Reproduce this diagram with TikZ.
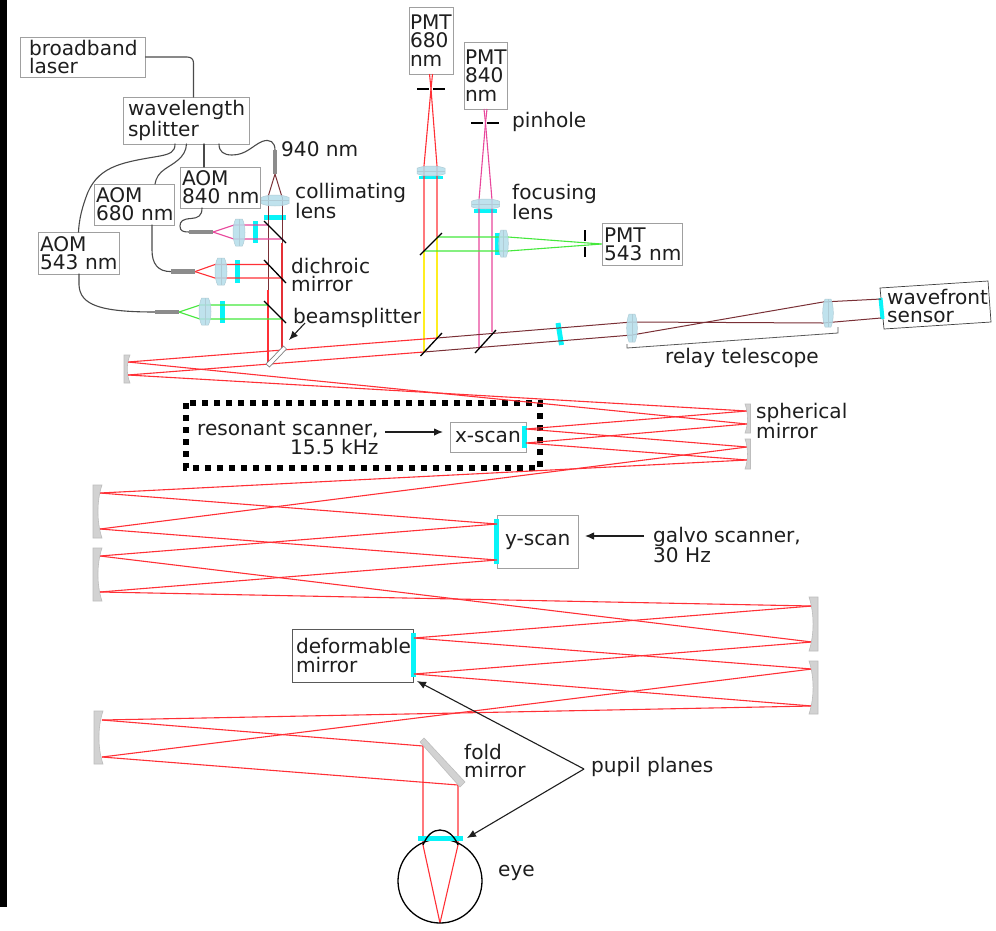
\documentclass[tikz,border=0pt]{standalone}
\usepackage{fontspec}
\setmainfont{DejaVu Sans}
\usetikzlibrary{arrows.meta}
\definecolor{ray}{HTML}{FF3036}
\definecolor{brownray}{HTML}{7A3036}
\definecolor{pinkray}{HTML}{E8479C}
\definecolor{greenray}{HTML}{45E83C}
\definecolor{yelray}{HTML}{FFEE20}
\definecolor{cyanbar}{HTML}{08F4F8}
\definecolor{fibre}{HTML}{4A4A4A}
\definecolor{boxline}{HTML}{A0A0A0}
\definecolor{mirrorgray}{HTML}{D2D2D2}
\definecolor{lensblue}{HTML}{B4DDEA}
\definecolor{lensline}{HTML}{B0CCD6}
\definecolor{ink}{HTML}{1E1E1E}
\tikzset{
  x=1pt,y=-1pt,
  every node/.style={text=ink,font=\fontsize{20.1}{18.3}\selectfont},
  boxn/.style n args={3}{draw=boxline,line width=1pt,fill=white,minimum width=#1pt,minimum height=#2pt,
    inner xsep=#3pt,inner ysep=0pt,text width=\dimexpr #1pt-2\dimexpr #3pt\relax\relax,align=left},
  lbl/.style={anchor=west,align=left,inner sep=0pt},
  rayline/.style={draw=ray,line width=1.1pt},
  brownline/.style={draw=brownray,line width=1pt},
  pinkline/.style={draw=pinkray,line width=1.1pt},
  greenline/.style={draw=greenray,line width=1.1pt},
  yellowline/.style={draw=yelray,line width=1.2pt},
  fibreline/.style={draw=fibre,line width=1.1pt,line cap=round},
  cyanstrip/.style={draw=cyanbar,line width=5pt},
  mirrorblack/.style={draw=black,line width=1.3pt},
  mirrorshape/.style={fill=mirrorgray,draw=boxline!70,line width=.6pt},
  arrowline/.style={draw=ink,line width=1.1pt,-{Latex[length=9pt,width=7.5pt]}},
  collim/.style={draw=black!45,line width=4.5pt}
}
\newcommand\LensShape[5]{% cx cy hw hh rot
  \begin{scope}[shift={(#1,#2)},rotate=#5]
    \path[fill=lensblue,draw=lensline,line width=.5pt,fill opacity=.85]
      (-#3*.55,-#4) -- (#3*.55,-#4) .. controls (#3*1.15,-#4*.5) and (#3*1.15,#4*.5) .. (#3*.55,#4)
      -- (-#3*.55,#4) .. controls (-#3*1.15,#4*.5) and (-#3*1.15,-#4*.5) .. cycle;
    \draw[lensline,line width=.4pt] (0,-#4) -- (0,#4);
  \end{scope}}
\newcommand\MirrorR[4]{% concave face right: left x, width, top y, bottom y
  \path[mirrorshape] (#1,#3) -- (#1+#2,#3) .. controls (#1+#2*.4,#3*.7+#4*.3) and (#1+#2*.4,#3*.3+#4*.7) .. (#1+#2,#4) -- (#1,#4) -- cycle;}
\newcommand\MirrorL[4]{% concave face left: right x, width, top y, bottom y
  \path[mirrorshape] (#1,#3) -- (#1-#2,#3) .. controls (#1-#2*.4,#3*.7+#4*.3) and (#1-#2*.4,#3*.3+#4*.7) .. (#1-#2,#4) -- (#1,#4) -- cycle;}
\begin{document}
\begin{tikzpicture}
\useasboundingbox (0,0) rectangle (996,930);
\fill[white] (0,0) rectangle (996,930);
\fill[black] (0,0) rectangle (7,907);

% --- named ray points
\coordinate (ma) at (128,362);   \coordinate (mb) at (128,375);
\coordinate (bsa) at (437,338);  \coordinate (bsb) at (424,352);
\coordinate (sa) at (747,411);   \coordinate (sb) at (747,424);
\coordinate (sc) at (747,447);   \coordinate (sd) at (747,460);
\coordinate (xa) at (526,429);   \coordinate (xb) at (526,443);
\coordinate (la) at (100,493);   \coordinate (lb) at (100,529);
\coordinate (lc) at (100,556);   \coordinate (ld) at (100,592);
\coordinate (ya) at (497,524);   \coordinate (yb) at (497,560);
\coordinate (ra) at (812,606);   \coordinate (rb) at (812,642);
\coordinate (rc) at (812,669);   \coordinate (rd) at (812,706);
\coordinate (da) at (414,638);   \coordinate (db) at (414,674);
\coordinate (ea) at (102,720);   \coordinate (eb) at (102,757);
\coordinate (fa) at (423,746);   \coordinate (fb) at (458,785);
\coordinate (ca) at (423,845);   \coordinate (cb) at (458,845);
\coordinate (retina) at (440,923);

% --- boxes
\node[boxn={125}{40}{9}] (laser) at (82.5,57) {\mbox{broadband}\\\mbox{laser}};
\node[boxn={126}{47}{5}] (split) at (186,120.5) {\mbox{wavelength}\\\mbox{splitter}};
\node[boxn={81}{42}{2}] (aomg) at (78.5,253) {\mbox{AOM}\\\mbox{543 nm}};
\node[boxn={80}{41}{2}] (aomr) at (134,204.5) {\mbox{AOM}\\\mbox{680 nm}};
\node[boxn={80}{41}{2}] (aomp) at (220,187.5) {\mbox{AOM}\\\mbox{840 nm}};
\node[boxn={44}{67}{1}] (pmtr) at (431,40.5) {\mbox{PMT}\\\mbox{680}\\\mbox{nm}};
\node[boxn={43}{67}{1}] (pmtp) at (485.5,75.5) {\mbox{PMT}\\\mbox{840}\\\mbox{nm}};
\node[boxn={80}{42}{2}] (pmtg) at (642,244) {\mbox{PMT}\\\mbox{543 nm}};
\node[boxn={76}{30}{5}] (xscan) at (488,437) {\mbox{x-scan}};
\node[boxn={81}{53}{8}] (yscan) at (537.5,541.5) {\mbox{y-scan}};
\node[boxn={121}{53}{4},draw=black!65] (dm) at (352.5,655.5) {\mbox{deformable}\\\mbox{mirror}};
\draw[black!75,line width=.7pt,fill=white] (880,288) -- (988,281) -- (991,322) -- (884,329) -- cycle;
\node[lbl] (wfs) at (887,306) {wavefront\\sensor};

% --- fibres
\coordinate (c940) at (275,150);
\coordinate (c840) at (189,232);
\coordinate (c680) at (171,271.6);
\coordinate (c543) at (155,312);
\draw[fibreline] (laser.east) -- (187,57) .. controls (191,57) and (193.5,59) .. (193.5,63) -- (193.5,97);
\draw[fibreline] (175,144) .. controls (175,152) and (170,154) .. (160,156) .. controls (125,162) and (100,165) .. (88,192) .. controls (82,207) and (79,220) .. (78.5,232);
\draw[fibreline] (186.5,144) .. controls (186,158) and (172,164) .. (165,169) .. controls (159,173) and (156,178) .. (155,184);
\draw[fibreline] (204,144) -- (204,167);
\draw[fibreline] (219,144) .. controls (219,152) and (224,155) .. (232,155) .. controls (246,155) and (252,146) .. (262,141.5) .. controls (270,138.5) and (275,142) .. (c940);
\draw[fibreline] (202,208) .. controls (202,216) and (198,218) .. (191,218.5) .. controls (183,219) and (180,221) .. (180,226) .. controls (180,231) and (183,232) .. (c840);
\draw[fibreline] (152,225) -- (152,250) .. controls (152,264) and (158,271.6) .. (c680);
\draw[fibreline] (79,274) -- (79,285) .. controls (80,305) and (100,312) .. (c543);

% --- dotted frame
\draw[black,line width=6pt,dash pattern=on 6pt off 6pt] (186,403) rectangle (540,468);

% --- cyan bars
\draw[cyanstrip] (264,217.5) -- (286,217.5);
\draw[cyanstrip] (255.5,221) -- (255.5,243);
\draw[cyanstrip] (237,260) -- (237,283);
\draw[cyanstrip] (222,301) -- (222,323);
\draw[cyanstrip,line width=3.5pt] (419,177.5) -- (443,177.5);
\draw[cyanstrip,line width=4pt] (474,211) -- (497,211);
\draw[cyanstrip] (497.5,233) -- (497.5,255);
\draw[cyanstrip] (558,323) -- (561.5,345);
\draw[cyanstrip,line width=4pt] (880.5,298) -- (882.5,319);
\draw[cyanstrip] (524.5,426) -- (524.5,448);
\draw[cyanstrip] (496.5,519) -- (496.5,564);
\draw[cyanstrip] (413.5,633) -- (413.5,677);

% --- beams from the sources
\draw[brownline] (268,197) -- (275,174) -- (282,197);
\draw[brownline] (268,197) -- (268,290);
\draw[rayline] (268,290) -- (268,365);
\draw[brownline] (282,197) -- (282,243);
\draw[draw=ray!80!brownray,line width=1.1pt] (282,243) -- (282,348);
\draw[pinkline] (213,232) -- (234,225) -- (268,225);
\draw[pinkline] (213,232) -- (234,239) -- (283,239);
\draw[rayline] (195,271.6) -- (215,264.5) -- (268,264.5);
\draw[rayline] (195,271.6) -- (215,278) -- (283,278);
\draw[greenline] (179,312) -- (200,305) -- (268,305);
\draw[greenline] (179,312) -- (200,319) -- (283,319);

% --- detection arm
\draw[rayline] (429.5,74) -- (431,89) -- (437,166) -- (437,237);
\draw[rayline] (432.5,74) -- (431,89) -- (424,166) -- (424,251);
\draw[yellowline] (437,237) -- (437,338);
\draw[yellowline] (424,251) -- (424,352);
\draw[pinkline] (484,109) -- (485.5,123) -- (492,200) -- (492,332);
\draw[pinkline] (487,109) -- (485.5,123) -- (479,200) -- (479,347);
\draw[greenline] (437,237) -- (508,237) -- (pmtg.west);
\draw[greenline] (424,251) -- (508,251) -- (pmtg.west);

% --- main path
\draw[rayline] (ma) -- (bsa);
\draw[rayline] (mb) -- (bsb);
\draw[brownline] (bsa) -- (632,322) -- (823,323) -- (881,318);
\draw[brownline] (bsb) -- (632,335) -- (823,302) -- (881,299);
\draw[rayline] (ma) -- (sb);
\draw[rayline] (mb) -- (sa);
\draw[rayline] (sa) -- (xa) -- (sc);
\draw[rayline] (sb) -- (xb) -- (sd);
\draw[rayline] (sc) -- (lb);
\draw[rayline] (sd) -- (la);
\draw[rayline] (la) -- (ya) -- (lc);
\draw[rayline] (lb) -- (yb) -- (ld);
\draw[rayline] (lc) -- (rb);
\draw[rayline] (ld) -- (ra);
\draw[rayline] (ra) -- (da) -- (rc);
\draw[rayline] (rb) -- (db) -- (rd);
\draw[rayline] (rc) -- (eb);
\draw[rayline] (rd) -- (ea);
\draw[rayline] (ea) -- (fa) -- (ca) -- (retina);
\draw[rayline] (eb) -- (fb) -- (cb) -- (retina);

% --- collimators
\draw[collim] (c940) -- (275,174);
\draw[collim] (c840) -- (213,232);
\draw[collim] (c680) -- (195,271.6);
\draw[collim] (c543) -- (179,312);

% --- lenses
\LensShape{275}{200.5}{5.5}{14}{90}
\LensShape{239}{232.5}{6}{13.5}{0}
\LensShape{221}{271.5}{6}{13.5}{0}
\LensShape{205}{311.5}{6}{13.5}{0}
\LensShape{431}{171}{5}{14}{90}
\LensShape{485.5}{204}{5}{14}{90}
\LensShape{503.5}{243.5}{4.8}{13.5}{0}
\LensShape{632}{328}{5.3}{14}{0}
\LensShape{828}{313}{5.3}{14}{0}

% --- flat black mirrors, pinholes
\draw[mirrorblack] (264,221) -- (286,243);
\draw[mirrorblack] (264,260) -- (286,283);
\draw[mirrorblack] (264,301) -- (286,323);
\draw[mirrorblack] (420,255) -- (442,233);
\draw[mirrorblack] (420.5,356) -- (442,333);
\draw[mirrorblack] (475,353) -- (496,330);
\draw[mirrorblack] (417,89) -- (429,89) (433,89) -- (445,89);
\draw[mirrorblack] (471,123) -- (483,123) (487,123) -- (499,123);
\draw[mirrorblack] (585,230) -- (585,241) (585,247) -- (585,257);

% --- beamsplitter
\draw[black!50,line width=.7pt,fill=white] (266,364) -- (283.5,346) -- (286.5,349) -- (269.5,367) -- cycle;

% --- curved mirrors
\MirrorR{124}{6}{355}{383}
\MirrorL{750.5}{5.5}{404}{433}
\MirrorL{750.5}{5.5}{439}{469}
\MirrorR{93}{9}{485}{538}
\MirrorR{93}{9}{548}{601}
\MirrorL{818}{9}{597}{651}
\MirrorL{818}{9}{661}{714}
\MirrorR{94}{9}{711}{764}
\path[mirrorshape] (420,742) -- (424,738) -- (465,782) -- (460,787) -- cycle;

% --- eye
\draw[black,line width=1.3pt] (440,881) circle [radius=42pt];
\draw[cyanstrip] (418,838.5) -- (463,838.5);
\draw[black,line width=1.3pt] (423,845) .. controls (427,835) and (433,830) .. (440,830) .. controls (447,830) and (454,835) .. (458,845);

% --- bracket
\draw[black!65,line width=.8pt] (627,344) -- (627,348) -- (838,333) -- (838,327);

% --- labels
\node[lbl] (n940) at (281,149) {940 nm};
\node[lbl] (ncol) at (295,201) {collimating\\lens};
\node[lbl] (ndich) at (291,275) {dichroic\\mirror};
\node[lbl] (nbs) at (293,318) {beamsplitter};
\node[lbl] (npin) at (512,122) {pinhole};
\node[lbl] (nfoc) at (512,202) {focusing\\lens};
\node[lbl] (nrel) at (665,358) {relay telescope};
\node[lbl] (nsph) at (756,421) {spherical\\mirror};
\node[lbl,align=right] (nres) at (197,438) {resonant scanner,\\15.5 kHz};
\node[lbl] (ngal) at (653,545) {galvo scanner,\\30 Hz};
\node[lbl] (nfold) at (464,761) {fold\\mirror};
\node[lbl] (npup) at (591,767) {pupil planes};
\node[lbl] (neye) at (498,873) {eye};

% --- arrows
\coordinate (bsfrom) at (305,323);
\coordinate (bsto) at (289,340);
\draw[arrowline] (bsfrom) -- (bsto);
\coordinate (resfrom) at (385,432);
\coordinate (resto) at (443,432);
\draw[arrowline] (resfrom) -- (resto);
\coordinate (galfrom) at (644,536);
\coordinate (galto) at (585,536);
\draw[arrowline] (galfrom) -- (galto);
\coordinate (pupapex) at (584,769);
\coordinate (dmto) at (417,681);
\coordinate (eyeto) at (467,838);
\draw[arrowline] (pupapex) -- (dmto);
\draw[arrowline] (pupapex) -- (eyeto);
\end{tikzpicture}
\end{document}
